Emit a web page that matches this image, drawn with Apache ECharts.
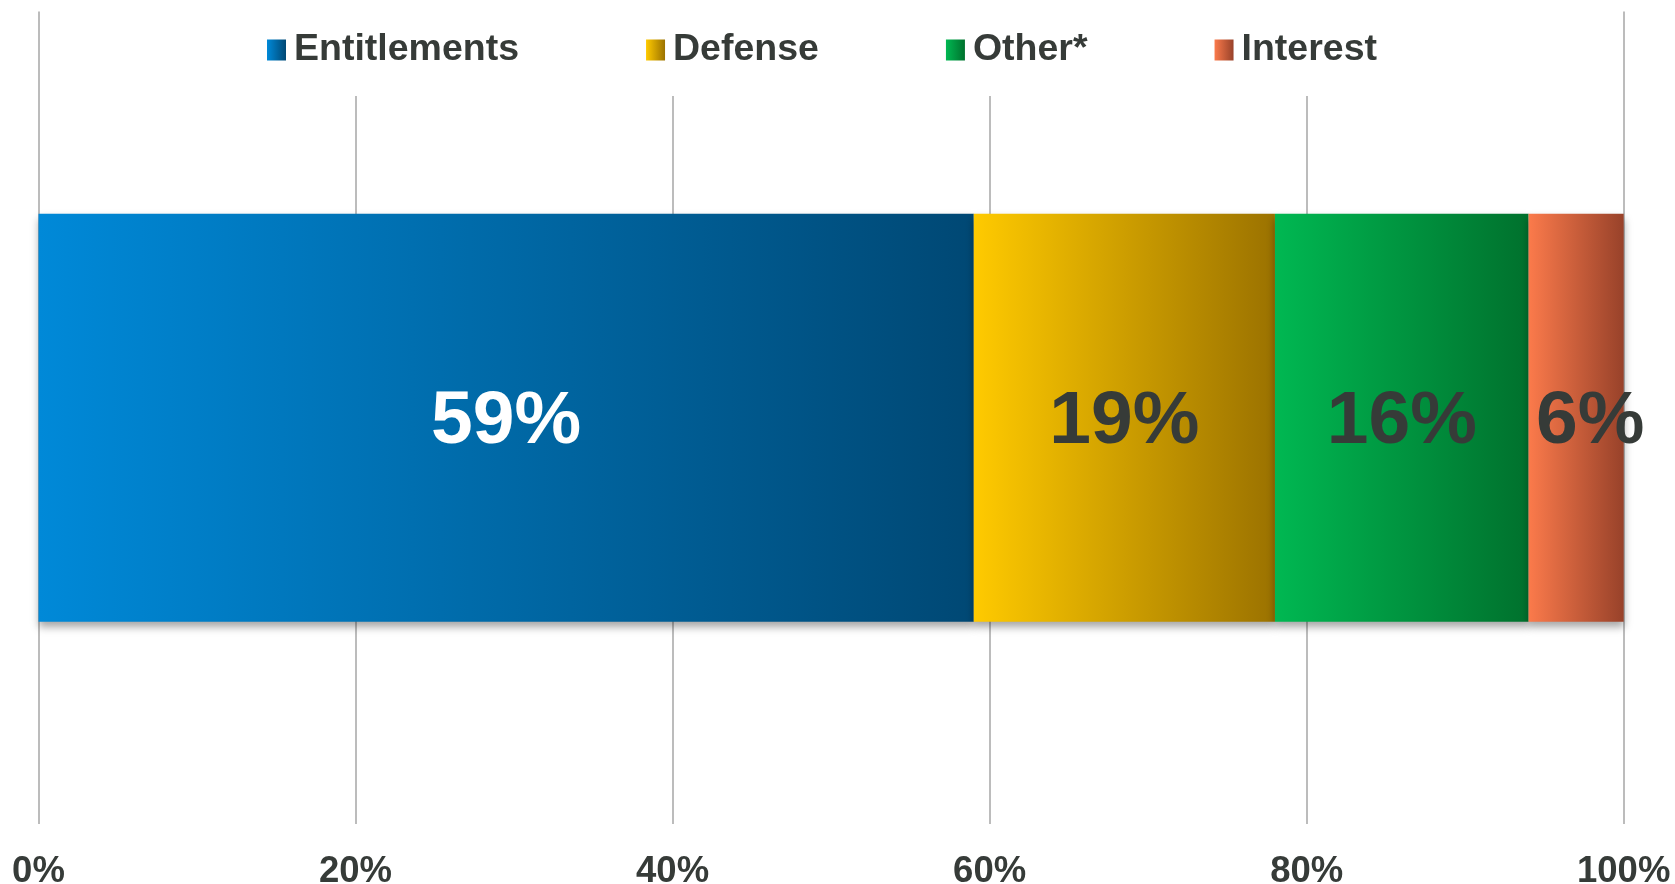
<!DOCTYPE html>
<html>
<head>
<meta charset="utf-8">
<script src="https://cdn.jsdelivr.net/npm/echarts@6/dist/echarts.min.js"></script>
<style>
html,body{margin:0;padding:0;background:#fff;}
#chart{width:1675px;height:884px;}
</style>
</head>
<body>
<div id="chart"></div>
<script>
const categories = ['Spending'];
const seriesNames = ['Entitlements', 'Defense', 'Other*', 'Interest'];
const entitlements = [59];
const defense = [19];
const other = [16];
const interest = [6];
const tickLabels = ['0%', '20%', '40%', '60%', '80%', '100%'];

const valuesList = [entitlements, defense, other, interest];
const gradients = [
  ['#0089d8', '#004874'],
  ['#ffca00', '#9b7200'],
  ['#00b852', '#00712d'],
  ['#fb7a4b', '#98422a']
];
const labelColors = ['#ffffff', '#363b38', '#363b38', '#363b38'];
const labelOffsets = [[0, 5], [0, 5], [0, 5], [14, 5]];
const FONT = '"Liberation Sans", Arial, sans-serif';

const chart = echarts.init(document.getElementById('chart'), null, {renderer: 'canvas'});

const series = seriesNames.map((name, i) => ({
  name: name,
  type: 'bar',
  stack: 'total',
  barWidth: 408,
  data: valuesList[i],
  itemStyle: {
    color: {
      type: 'linear', x: 0, y: 0, x2: 1, y2: 0,
      colorStops: [{offset: 0, color: gradients[i][0]}, {offset: 1, color: gradients[i][1]}]
    },
    shadowColor: 'rgba(0,0,0,0.35)',
    shadowBlur: 8,
    shadowOffsetY: 5
  },
  label: {
    show: true,
    position: 'inside',
    formatter: p => p.value + '%',
    color: labelColors[i],
    fontFamily: FONT,
    fontWeight: 'bold',
    fontSize: 75,
    offset: labelOffsets[i]
  },
  emphasis: {disabled: true}
}));

chart.setOption({
  animation: false,
  backgroundColor: '#ffffff',
  legend: {
    data: seriesNames,
    left: 257,
    top: 8,
    padding: [22, 10, 26, 10],
    backgroundColor: '#ffffff',
    itemGap: 127,
    itemWidth: 19,
    itemHeight: 21,
    icon: 'rect',
    textStyle: {
      fontFamily: FONT,
      fontWeight: 'bold',
      fontSize: 37.5,
      lineHeight: 40,
      color: '#363b38',
      padding: [0, 0, 0, 3]
    },
    z: 10
  },
  grid: {
    left: 38.5,
    right: 51.3,
    top: 11.5,
    bottom: 60,
    outerBoundsMode: 'none',
    containLabel: false
  },
  xAxis: {
    type: 'value',
    min: 0,
    max: 100,
    interval: 20,
    axisLine: {show: false},
    axisTick: {show: false},
    splitLine: {show: true, lineStyle: {color: '#a6a6a6', width: 1.5}},
    axisLabel: {
      margin: 29,
      formatter: v => tickLabels[Math.round(v / 20)],
      fontFamily: FONT,
      fontWeight: 'bold',
      fontSize: 36.5,
      color: '#363b38'
    }
  },
  yAxis: {
    type: 'category',
    data: categories,
    axisLine: {show: false},
    axisTick: {show: false},
    axisLabel: {show: false},
    splitLine: {show: false}
  },
  series: series
});
</script>
</body>
</html>
